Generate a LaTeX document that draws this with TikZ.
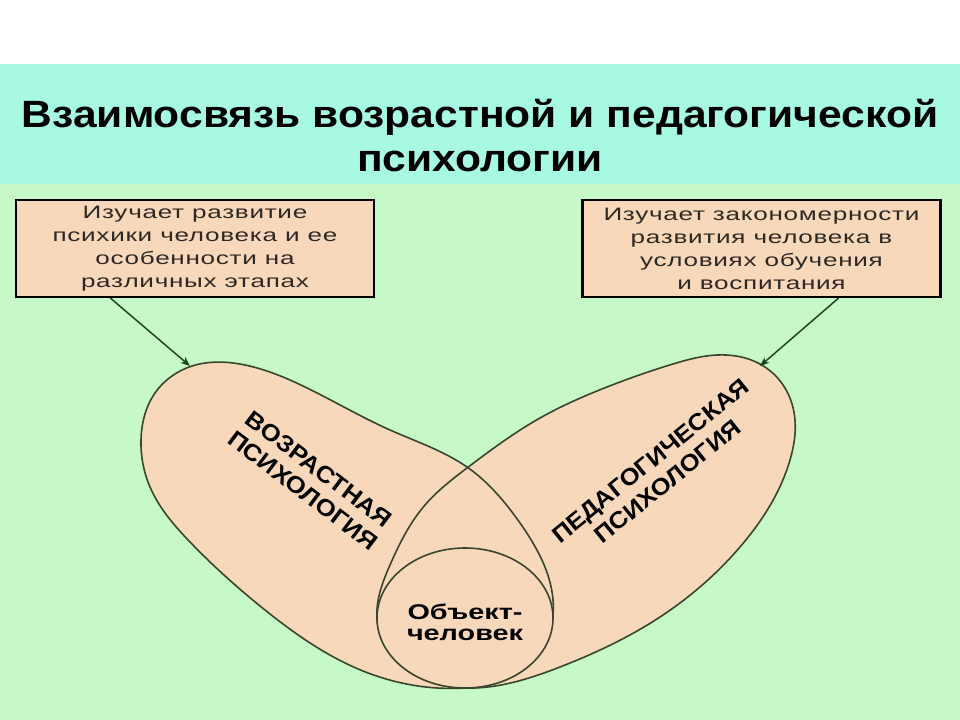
\documentclass[tikz,border=0pt]{standalone}
\usepackage{fontspec}
\setmainfont{Liberation Sans}
\newfontfamily\titlefont[FakeStretch=1.12]{Liberation Sans}
\newfontfamily\boxfont[FakeStretch=1.45,LetterSpace=4]{Liberation Sans}
\newfontfamily\lblfont[FakeStretch=1.1]{Liberation Sans}
\newfontfamily\objfont[FakeStretch=1.35]{Liberation Sans}
\usetikzlibrary{shapes.geometric,arrows.meta,calc,hobby}
\definecolor{topcyan}{RGB}{168,249,228}
\definecolor{bggreen}{RGB}{198,248,200}
\definecolor{peach}{RGB}{248,216,186}
\definecolor{edge}{RGB}{55,70,45}
\definecolor{arrowc}{RGB}{25,70,30}
\definecolor{boxtext}{RGB}{45,40,35}
\tikzset{
  infobox/.style={draw=black, line width=1.6pt, fill=peach, minimum width=268.5pt, minimum height=72.75pt, inner sep=0pt,
    font=\boxfont\fontsize{13.5pt}{17.25pt}\selectfont, text=boxtext, align=center},
  shapeedge/.style={draw=edge, line width=1.2pt},
  blob/.style={use Hobby shortcut, closed=true},
  lbl/.style={font=\lblfont\bfseries\fontsize{17.5pt}{20pt}\selectfont, align=center, inner sep=0pt},
  arr/.style={draw=arrowc, line width=1.1pt, -{Stealth[length=7pt,width=5.5pt]}},
}
\begin{document}
\begin{tikzpicture}[x=0.75pt,y=-0.75pt]
\useasboundingbox (0,0) rectangle (960,720);
\fill[white] (0,0) rectangle (960,64);
\fill[topcyan] (0,64) rectangle (960,184);
\fill[bggreen] (0,184) rectangle (960,720);
\node[font=\titlefont\bfseries\fontsize{28.5pt}{33pt}\selectfont, align=center, anchor=base] (title) at (480,172)
  {Взаимосвязь возрастной и педагогической\\психологии};
% oval shapes
\def\leftshape{(141,440) .. (155,393) .. (192,366) .. (245,365) .. (303,386) .. (390,430) .. (467,467) .. (520,523) .. (553,615) .. (527,667) .. (465,688) .. (363,671) .. (265,610) .. (190,542) .. (150,487)}
\def\rightshape{(467,468) .. (540,418) .. (607,387) .. (673,364) .. (717,355) .. (760,364) .. (785,388) .. (795,420) .. (790,460) .. (740,547) .. (660,617) .. (560,667) .. (465,688) .. (403,667) .. (377,618) .. (390,565) .. (425,505)}
\fill[peach, blob] \leftshape;
\fill[peach, blob] \rightshape;
\draw[shapeedge, blob] \leftshape;
\draw[shapeedge, blob] \rightshape;
\node[ellipse, shapeedge, fill=peach, minimum width=132pt, minimum height=105pt, inner sep=0pt] (obj) at (465,618) {};
\node[font=\objfont\bfseries\fontsize{16pt}{15.5pt}\selectfont, align=center] (objt) at (465,622) {Объект-\\человек};
\node[lbl, rotate=-37] (Lt) at (311,480) {ВОЗРАСТНАЯ\\ПСИХОЛОГИЯ};
\node[lbl, rotate=39] (Rt) at (659,471) {ПЕДАГОГИЧЕСКАЯ\\ПСИХОЛОГИЯ};
% boxes
\node[infobox] (lbox) at (195,248.5) {Изучает развитие\\психики человека и ее\\особенности на\\различных этапах};
\node[infobox] (rbox) at (761.5,248.5) {Изучает закономерности\\развития человека в\\условиях обучения\\и воспитания};
\coordinate (ltip) at (190,366);
\coordinate (rtip) at (760,366);
\draw[arr] ($(lbox.south west)!0.265!(lbox.south east)$) -- (ltip);
\draw[arr] ($(rbox.south west)!0.714!(rbox.south east)$) -- (rtip);
\end{tikzpicture}
\end{document}
